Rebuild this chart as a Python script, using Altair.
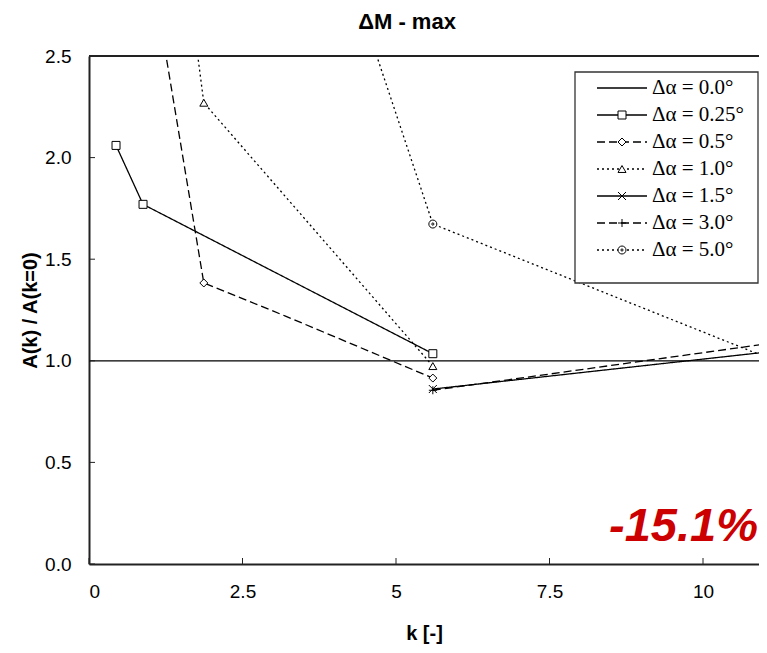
import altair as alt
import pandas as pd

# ---------------- data ----------------
series_names = ["Δα = 0.0°", "Δα = 0.25°", "Δα = 0.5°", "Δα = 1.0°",
                "Δα = 1.5°", "Δα = 3.0°", "Δα = 5.0°"]

k_00 = [0.0, 12.5]
a_00 = [1.0, 1.0]
k_025 = [0.44, 0.88, 5.6]
a_025 = [2.06, 1.77, 1.035]
k_05 = [0.88, 1.87, 3.2, 5.6]
a_05 = [3.18, 1.383, 1.22, 0.915]
m_05 = [True, True, False, True]
k_10 = [0.88, 1.87, 5.6]
a_10 = [4.58, 2.27, 0.974]
k_15 = [5.6, 12.5]
a_15 = [0.861, 1.092]
k_30 = [5.6, 12.5]
a_30 = [0.855, 1.145]
k_50 = [1.87, 5.6, 12.5]
a_50 = [5.05, 1.673, 0.84]

x_ticks = [0, 2.5, 5, 7.5, 10]
y_ticks = [0.0, 0.5, 1.0, 1.5, 2.0, 2.5]
annotation = ["-15.1%"]

# ---------------- table ----------------
rows = []
def add(name, ks, vals, marks=None):
    for i, (k, v) in enumerate(zip(ks, vals)):
        m = True if marks is None else marks[i]
        rows.append({"series": name, "k": k, "a": v, "o": i, "marker": m})

add(series_names[0], k_00, a_00, [False] * len(k_00))
add(series_names[1], k_025, a_025)
add(series_names[2], k_05, a_05, m_05)
add(series_names[3], k_10, a_10)
add(series_names[4], k_15, a_15)
add(series_names[5], k_30, a_30)
add(series_names[6], k_50, a_50)
df = pd.DataFrame(rows)

leg_df = pd.DataFrame({"series": series_names, "row": list(range(len(series_names)))})
xt_df = pd.DataFrame({"k": x_ticks})
yt_df = pd.DataFrame({"a": y_ticks})
ann_df = pd.DataFrame({"t": annotation})

W, H = 670, 508
dashes = [[1, 0], [1, 0], [8, 4], [2, 3], [1, 0], [8, 4], [2, 3]]
circ = "M1,0A1,1,0,1,1,-1,0A1,1,0,1,1,1,0ZM0.28,0A0.28,0.28,0,1,1,-0.28,0A0.28,0.28,0,1,1,0.28,0Z"
shapes = ["circle", "square", "diamond", "triangle-up",
          "M-1,-1L1,1M-1,1L1,-1", "M-1,0L1,0M0,-1L0,1", circ]

dash_enc = alt.StrokeDash("series:N", scale=alt.Scale(domain=series_names, range=dashes), legend=None)
shape_enc = alt.Shape("series:N", scale=alt.Scale(domain=series_names, range=shapes), legend=None)

xscale = alt.Scale(domain=[0, 10.912], nice=False, zero=False)
yscale = alt.Scale(domain=[0, 2.5], nice=False)

font = "Liberation Sans"

x_enc = alt.X("k:Q", scale=xscale, title="k [-]",
              axis=alt.Axis(values=x_ticks, format="~g", ticks=False, tickSize=0,
                            grid=False, labelPadding=18, labelFontSize=19,
                            labelFont=font, labelColor="black",
                            titleFont=font, titleFontSize=20, titleFontWeight="bold",
                            titleColor="black", titlePadding=22,
                            domainColor="#222", domainWidth=2))
y_enc = alt.Y("a:Q", scale=yscale, title="A(k) / A(k=0)",
              axis=alt.Axis(values=y_ticks, format=".1f", ticks=False, tickSize=0,
                            grid=False, labelPadding=18, labelFontSize=19,
                            labelFont=font, labelColor="black",
                            titleFont=font, titleFontSize=20, titleFontWeight="bold",
                            titleColor="black", titlePadding=4,
                            domainColor="#222", domainWidth=2))

lines = alt.Chart(df).mark_line(clip=True, strokeWidth=1.3, color="black").encode(
    x=x_enc, y=y_enc, strokeDash=dash_enc, detail="series:N", order="o:Q")

points = alt.Chart(df).transform_filter("datum.marker").mark_point(
    clip=True, filled=False, fill="white", fillOpacity=1, stroke="black",
    strokeWidth=1, opacity=1, size=64).encode(
    x=alt.X("k:Q", scale=xscale), y=alt.Y("a:Q", scale=yscale), shape=shape_enc)

xt = alt.Chart(xt_df).mark_rule(color="#222", strokeWidth=1).encode(
    x=alt.X("k:Q", scale=xscale), y=alt.value(H), y2=alt.value(H - 6))
yt = alt.Chart(yt_df).mark_rule(color="#222", strokeWidth=1).encode(
    y=alt.Y("a:Q", scale=yscale), x=alt.value(0), x2=alt.value(6))
topline = alt.Chart(ann_df).mark_rule(color="#222", strokeWidth=2).encode(
    x=alt.value(0), x2=alt.value(W), y=alt.value(0))

ann = alt.Chart(ann_df).mark_text(
    font=font, fontSize=47, fontWeight="bold", fontStyle="italic",
    color="#CC0000", align="right", baseline="alphabetic").encode(
    text="t:N", x=alt.value(669), y=alt.value(485))

main = alt.layer(lines, points, xt, yt, topline, ann)

# ---------------- legend ----------------
row_y = alt.Y("row:Q", scale=alt.Scale(domain=[0, 6], range=[32, 194]), axis=None)
box = alt.Chart(ann_df).mark_rect(fill="white", stroke="#333", strokeWidth=1.3).encode(
    x=alt.value(486), x2=alt.value(669), y=alt.value(16), y2=alt.value(227))
leg_lines = alt.Chart(leg_df).mark_rule(color="black", strokeWidth=1.3).encode(
    x=alt.value(508), x2=alt.value(558), y=row_y, strokeDash=dash_enc)
leg_pts = alt.Chart(leg_df).transform_filter("datum.row > 0").mark_point(
    filled=False, fill="white", fillOpacity=1, stroke="black", strokeWidth=1,
    opacity=1, size=64).encode(x=alt.value(533), y=row_y, shape=shape_enc)
leg_text = alt.Chart(leg_df).mark_text(
    font="Liberation Serif", fontSize=21, align="left", baseline="middle",
    color="black").encode(x=alt.value(563), y=row_y, text="series:N")
legend = alt.layer(box, leg_lines, leg_pts, leg_text)

chart = alt.layer(main, legend).resolve_scale(y="independent").properties(
    width=W, height=H,
    autosize=alt.AutoSizeParams(type="none"),
    padding={"left": 81, "top": 48, "right": 0, "bottom": 80},
    title=alt.TitleParams("ΔM - max", font=font, fontSize=22, fontWeight="bold",
                          color="black", anchor="middle", dx=-17, offset=13),
).configure_view(stroke=None)

chart.save("out.html", embed_options={"renderer": "svg", "actions": False})
